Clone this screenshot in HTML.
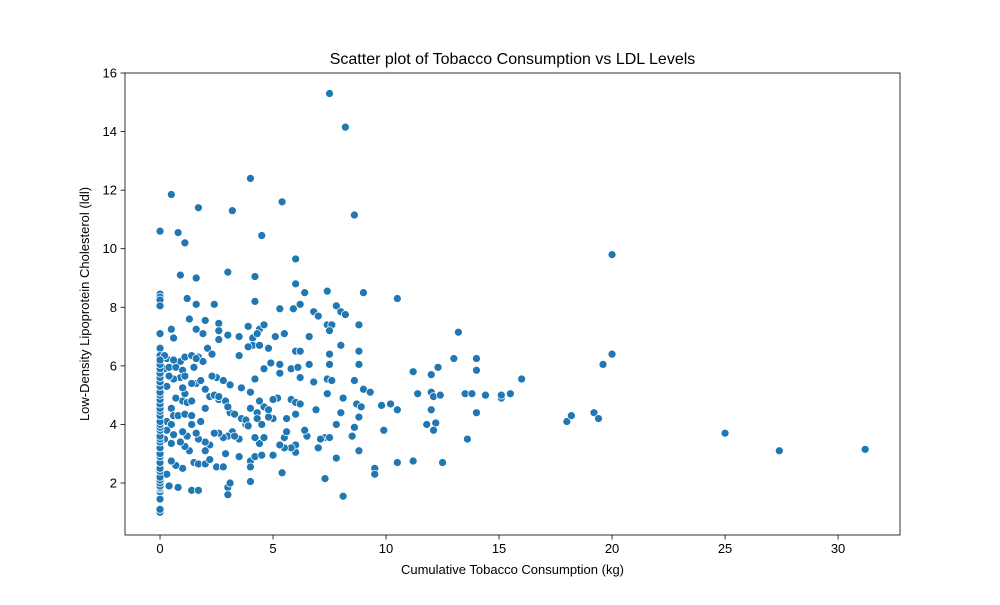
<!DOCTYPE html>
<html><head><meta charset="utf-8"><style>
body{margin:0;background:#fff;font-family:"Liberation Sans","DejaVu Sans",sans-serif;}
</style></head><body>
<svg id="chart" width="1000" height="600" xmlns="http://www.w3.org/2000/svg"></svg>
<script>
const xTicks=[0,5,10,15,20,25,30];
const yTicks=[2,4,6,8,10,12,14,16];
const tobacco=[7.5,8.2,4.0,0.5,5.4,1.7,3.2,8.6,0,0.8,4.5,1.1,6,20,0.9,1.6,3,4.2,6,6.4,9,7.4,10.5,1.2,1.6,2.4,4.2,6.2,5.9,5.3,7.8,8,8.2,0,0,0,0,0,1.3,2.0,2.6,4.4,4.6,3.9,6.8,7,7.4,7.6,8.8,7.5,13.2,0.5,0.6,1.6,1.9,2.6,3,3.5,4.1,4.3,5.1,5.5,6.6,8,4.1,4.4,3.9,2.6,2.1,4.8,6,6.2,7.5,8.8,3.5,2.3,0,0,0.3,0.9,1.1,1.4,1.7,1.9,4.9,5.3,5.8,6.1,6.6,7.5,8.8,13,14,12.3,20,19.6,0.2,0.4,0.7,1.0,1.5,2.5,2.3,2.8,3.1,3.6,4.0,4.2,4.6,5.3,6.2,6.8,7.4,7.6,8.6,9.0,9.3,10.2,11.2,12.0,14,16,11.4,12,12.1,12.4,13.5,13.8,14.4,15.1,15.1,15.5,14,11.8,12,12.2,12.1,13.6,12.5,11.2,10.5,10.5,9.8,9.9,9.5,9.5,8.8,8.6,8.5,8.0,8.7,8.8,8.9,8.1,7.8,7.3,7.3,7.5,7.1,7.0,6.5,6.0,6.0,5.8,5.5,5.3,5.5,5.6,5.4,5.0,4.4,4.6,4.2,4.0,4.0,4.2,4.5,4.0,3.5,3.5,3.8,3.6,3.8,3.2,3.0,2.8,2.6,2.4,2.2,2.0,2.0,1.7,1.6,1.2,1.3,1.1,1.0,0.7,0.5,0.3,0.8,0.4,1.4,1.7,1.5,1.7,2.0,2.5,2.8,3.0,3.0,3.1,2.2,2.9,3.3,1.8,2.0,2.6,2.9,3.1,3.0,3.3,4.0,4.3,4.6,4.4,4.8,5.0,5.2,5.0,5.6,5.8,6.0,6.0,6.2,6.4,6.9,7.4,7.8,8.1,4.3,4.5,4.8,3.9,1.0,0.7,1.2,1.1,1.4,0.5,0.6,0.8,1.1,1.4,0.3,0.5,0.3,0.6,0.2,0.5,0.9,1.0,1.4,1.6,1.8,1.4,0.9,0.6,0.4,0.3,1.0,1.1,1.6,2.0,2.2,2.4,2.6,0.6,0.2,18,18.2,19.2,19.4,25,27.4,31.2,0,0,0,0,0,0,0,0,0,0,0,0,0,0,0,0,0,0,0,0,0,0,0,0,0,0,0,0,0,0,0,0,0,0,0,0,0];
const ldl=[15.3,14.15,12.4,11.85,11.6,11.4,11.3,11.15,10.6,10.55,10.45,10.2,9.65,9.8,9.1,9.0,9.2,9.05,8.8,8.5,8.5,8.55,8.3,8.3,8.1,8.1,8.2,8.1,7.95,7.95,8.05,7.85,7.75,8.45,8.35,8.25,8.05,7.1,7.6,7.55,7.45,7.25,7.4,7.35,7.85,7.7,7.4,7.4,7.4,7.2,7.15,7.25,6.95,7.25,7.1,7.2,7.05,7.0,6.95,7.1,7.0,7.1,7.0,6.7,6.7,6.7,6.65,6.9,6.6,6.6,6.5,6.5,6.4,6.5,6.35,6.4,6.6,6.35,6.25,6.15,6.3,6.35,6.3,6.15,6.1,6.05,5.9,5.95,6.05,6.05,6.05,6.25,6.25,5.95,6.4,6.05,5.9,5.95,5.95,5.85,5.95,5.6,5.65,5.5,5.35,5.25,5.1,5.55,5.9,5.75,5.6,5.45,5.55,5.5,5.5,5.2,5.1,4.7,5.8,5.7,5.85,5.55,5.05,5.1,4.95,5.0,5.05,5.05,5.0,4.9,5.0,5.05,4.4,4.0,4.5,4.05,3.8,3.5,2.7,2.75,2.7,4.5,4.65,3.8,2.5,2.3,3.1,3.9,3.6,4.4,4.7,4.25,4.6,1.55,2.85,2.15,3.55,3.55,3.5,3.2,3.6,3.05,3.3,3.2,3.2,3.3,3.55,3.75,2.35,2.95,3.35,3.55,3.55,2.75,2.05,2.9,2.95,2.55,2.9,3.5,4.0,4.2,4.15,3.75,3.6,3.55,3.7,3.7,3.3,3.1,3.4,3.5,3.7,3.6,3.1,3.25,2.5,2.6,2.75,2.3,1.85,1.9,1.75,1.75,2.7,2.65,2.65,2.55,2.55,1.85,1.6,2.0,2.8,3.0,3.6,4.1,4.55,4.85,4.8,4.4,4.6,4.35,4.55,4.4,4.6,4.8,4.5,4.2,4.9,4.85,4.2,4.85,4.75,4.35,4.7,3.8,4.5,5.05,4.0,4.9,4.2,4.0,4.25,3.95,4.8,4.9,4.75,5.05,4.8,4.55,4.3,4.3,4.35,4.3,4.1,4.0,3.8,3.65,3.5,3.35,3.4,3.75,4.0,5.4,5.5,5.4,5.6,5.55,5.65,5.3,5.25,5.65,6.25,5.2,4.95,5.0,4.95,6.2,6.35,4.1,4.3,4.4,4.2,3.7,3.1,3.15,1.0,1.1,1.45,1.7,1.8,1.85,1.9,2.0,2.1,2.2,2.4,2.5,2.7,2.9,3.0,3.2,3.4,3.5,3.6,3.8,3.9,4.0,4.1,4.3,4.45,4.55,4.7,4.85,5.0,5.1,5.3,5.45,5.6,5.75,5.9,6.05,6.2];

const L=125,R=900,T=73,B=535;
const xMin=-1.55,xMax=32.74,yMin=0.225,yMax=16.0;
const sx=v=>L+(v-xMin)/(xMax-xMin)*(R-L);
const sy=v=>B-(v-yMin)/(yMax-yMin)*(B-T);
const svg=document.getElementById('chart');
const NS='http://www.w3.org/2000/svg';
function mk(tag,attrs,parent){const e=document.createElementNS(NS,tag);for(const k in attrs)e.setAttribute(k,attrs[k]);(parent||svg).appendChild(e);return e;}

const pts=mk('g',{});


for(let i=0;i<Math.min(tobacco.length,ldl.length);i++){
  const c=mk('circle',{cx:sx(tobacco[i]),cy:sy(ldl[i]),r:4,fill:'#1f77b4',stroke:'#fff','stroke-width':0.75},pts);
  
  
}
const frame=mk('rect',{x:L,y:T,width:R-L,height:B-T,fill:'none',stroke:'#000','stroke-width':0.8});



xTicks.forEach(v=>{
  const x=sx(v);
  mk('line',{x1:x,x2:x,y1:B,y2:B+4.5,stroke:'#000','stroke-width':0.8});
  const t=mk('text',{x:x,y:B+18,'text-anchor':'middle','font-size':13,fill:'#000'});
  t.textContent=v;
  
  
});
yTicks.forEach(v=>{
  const y=sy(v);
  mk('line',{x1:L-4.5,x2:L,y1:y,y2:y,stroke:'#000','stroke-width':0.8});
  const t=mk('text',{x:L-8,y:y+4.5,'text-anchor':'end','font-size':13,fill:'#000'});
  t.textContent=v;
  
  
});
const title=mk('text',{x:(L+R)/2,y:64,'text-anchor':'middle','font-size':16,fill:'#000'});
title.textContent='Scatter plot of Tobacco Consumption vs LDL Levels';


const xl=mk('text',{x:(L+R)/2,y:574,'text-anchor':'middle','font-size':13,fill:'#000'});
xl.textContent='Cumulative Tobacco Consumption (kg)';


const yl=mk('text',{x:89,y:(T+B)/2,'text-anchor':'middle','font-size':13,fill:'#000',transform:`rotate(-90 89 ${(T+B)/2})`});
yl.textContent='Low-Density Lipoprotein Cholesterol (ldl)';


</script>
</body></html>
